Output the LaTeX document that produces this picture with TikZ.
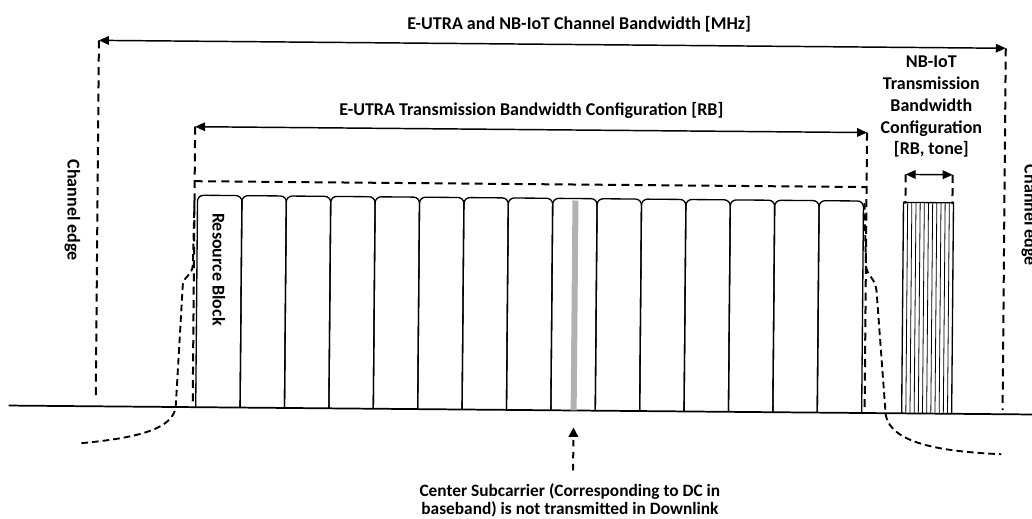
\documentclass[tikz,border=0pt]{standalone}
\usepackage{fontspec}
\setmainfont{Carlito}
\usetikzlibrary{arrows.meta,positioning}

\begin{document}
\begin{tikzpicture}[x=0.75pt,y=-0.75pt,
  lbl/.style={font=\fontsize{13.5}{16.4}\selectfont\bfseries,inner sep=0pt,align=center},
  edgeline/.style={line width=1.5pt,dash pattern=on 6pt off 4pt},
  mask/.style={line width=1.4pt,dash pattern=on 5pt off 3pt},
  bwarrow/.style={{Triangle[length=7.5pt,width=6.5pt]}-{Triangle[length=7.5pt,width=6.5pt]},line width=1.1pt},
  rbbox/.style={line width=1pt,rounded corners=4.5pt},
]
\useasboundingbox (0,0) rectangle (1032,518);
\begin{scope}[rotate around={-0.5:(516,259)}]
% frequency axis
\coordinate (axisL) at (10,410);
\coordinate (axisR) at (1045,410);
\draw[line width=1.3pt] (axisL) -- (axisR);

% channel bandwidth
\coordinate (chL) at (97,44);
\coordinate (chR) at (1004,44);
\draw[bwarrow] (chL) -- (chR);
\node[lbl] (chbw) at (577,24) {E-UTRA and NB-IoT Channel Bandwidth [MHz]};
\draw[edgeline] (chL) -- ([yshift=7pt]chL |- axisL);
\draw[edgeline] (chR) -- ([yshift=3pt]chR |- axisL);
\node[lbl,rotate=-90] (edgeL) at (72,214) {Channel edge};
\node[lbl,rotate=-90] (edgeR) at (1029,211) {Channel edge};

% transmission bandwidth configuration
\coordinate (tbL) at (194,129.5);
\coordinate (tbR) at (866,129.5);
\draw[bwarrow] (tbL) -- (tbR);
\node[lbl] (tbcfg) at (530,110) {E-UTRA Transmission Bandwidth Configuration [RB]};
\draw[edgeline] (tbL) -- (tbL |- axisL);
\draw[edgeline] (tbR) -- (tbR |- axisL);
\draw[edgeline] (194,184) -- (866,184);

% resource blocks
\foreach \i in {0,...,14}
  \draw[rbbox] ({197+44.4*\i},410) -- ({197+44.4*\i},198) -- ({197+44.4*(\i+1)},198) -- ({197+44.4*(\i+1)},410);
\node[lbl,rotate=-90] (rb) at (219,272) {Resource Block};

% DC subcarrier
\coordinate (dc) at (575,200);
\draw[line width=4.5pt,gray!60] (dc) -- (dc |- axisL);
\node[lbl,font=\fontsize{13}{13}\selectfont\bfseries] (dcnote) at (572,500)
  {Center Subcarrier (Corresponding to DC in\\ baseband) is not transmitted in Downlink};
\coordinate (dcfoot) at (575,470);
\coordinate (dctip) at (575,427);
\draw[line width=1.5pt,dash pattern=on 5pt off 4pt,-{Triangle[length=7pt,width=7pt]}] (dcfoot) -- (dctip);

% out-of-band emission
\draw[mask] (83,447) .. controls (140,441) and (174,432) .. (177,410)
  -- (183,288) .. controls (184,278) and (193,279) .. (193,266) -- (194,200);
\draw[mask] (864,200) -- (866,262) .. controls (867,274) and (876,274) .. (877,290)
  -- (887,411) .. controls (892,442) and (950,448) .. (1003,450);

% NB-IoT carrier
\coordinate (nbL) at (905,171);
\coordinate (nbR) at (952,171);
\draw[bwarrow] (nbL) -- (nbR);
\draw[edgeline] (nbL) -- ([yshift=-1pt]nbL |- 0,199);
\draw[edgeline] (nbR) -- ([yshift=-1pt]nbR |- 0,199);
\draw[line width=1pt] (903,410) -- (903,199) -- (953,199) -- (953,410);
\foreach \j in {1,...,11}
  \draw[line width=0.6pt] ({903+50/12*\j},199) -- ({903+50/12*\j},410);
\node[lbl] (nbcfg) at (930,103) {NB-IoT\\Transmission\\Bandwidth\\Configuration\\{[RB, tone]}};
\end{scope}
\end{tikzpicture}
\end{document}
